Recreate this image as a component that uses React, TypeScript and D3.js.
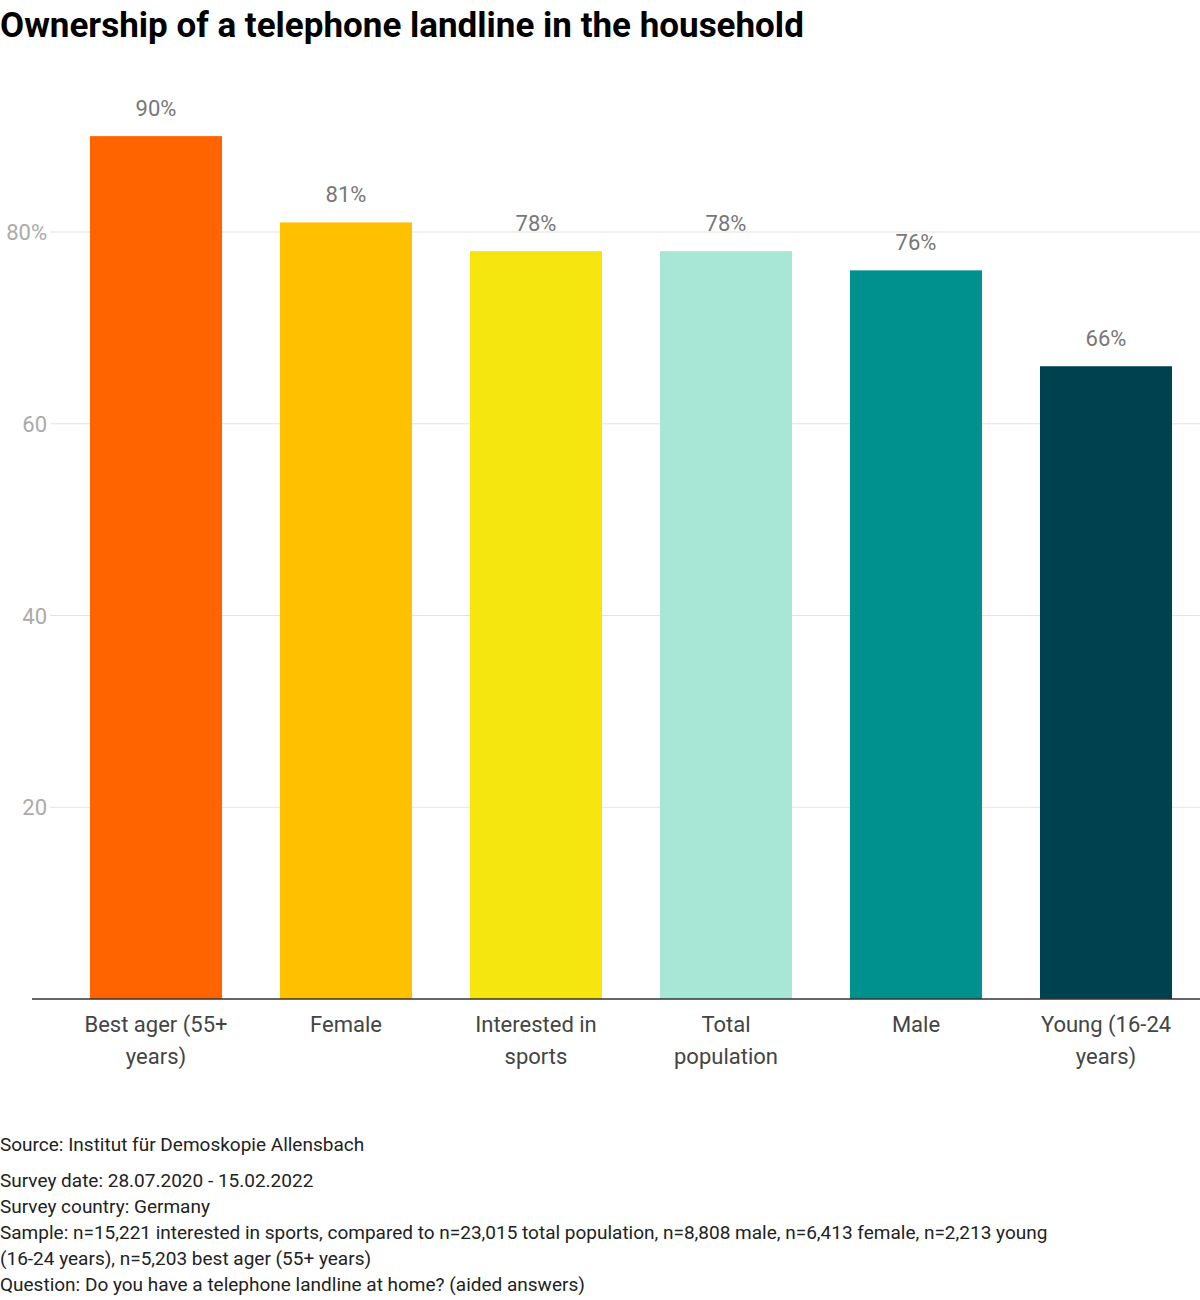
import * as d3 from 'd3'

const categories = ['Best ager (55+ years)', 'Female', 'Interested in sports', 'Total population', 'Male', 'Young (16-24 years)']
const labelLines = [['Best ager (55+', 'years)'], ['Female'], ['Interested in', 'sports'], ['Total', 'population'], ['Male'], ['Young (16-24', 'years)']]
const values = [90, 81, 78, 78, 76, 66]
const colors = ['#ff6400', '#ffc000', '#f5e60f', '#a8e6d6', '#00918f', '#00414f']
const ticks = [20, 40, 60, 80]
const footer = [
  'Source: Institut für Demoskopie Allensbach',
  'Survey date: 28.07.2020 - 15.02.2022',
  'Survey country: Germany',
  'Sample: n=15,221 interested in sports, compared to n=23,015 total population, n=8,808 male, n=6,413 female, n=2,213 young',
  '(16-24 years), n=5,203 best ager (55+ years)',
  'Question: Do you have a telephone landline at home? (aided answers)',
]
const footerY = [1151, 1187, 1213, 1239, 1265, 1291]

export default function App() {
  const x = d3.scaleBand<string>().domain(categories).range([61, 1201]).paddingInner(0.305).paddingOuter(0.1525)
  const y = d3.scaleLinear().domain([0, 80]).range([999, 232])
  const font = 'Roboto, sans-serif'
  return (
    <svg width={1200} height={1300} style={{ position: 'absolute', left: 0, top: 0, fontFamily: font }}>
      <text x={0} y={37} fontSize={35} fontWeight="bold" fill="#000">Ownership of a telephone landline in the household</text>
      {ticks.map((t) => (
        <g key={t}>
          <line x1={50} x2={1200} y1={y(t)} y2={y(t)} stroke="#e3e3e3" />
          <text x={47} y={y(t) + 8} textAnchor="end" fontSize={22} fill="#aaa">{t === 80 ? '80%' : t}</text>
        </g>
      ))}
      {categories.map((c, i) => (
        <g key={c}>
          <rect x={x(c)} y={y(values[i])} width={x.bandwidth()} height={y(0) - y(values[i])} fill={colors[i]} />
          <text x={x(c)! + x.bandwidth() / 2} y={y(values[i]) - 20} textAnchor="middle" fontSize={22} fill="#777">{values[i]}%</text>
          {labelLines[i].map((l, j) => (
            <text key={j} x={x(c)! + x.bandwidth() / 2} y={1032 + j * 32} textAnchor="middle" fontSize={22} fill="#444">{l}</text>
          ))}
        </g>
      ))}
      <line x1={32} x2={1200} y1={y(0)} y2={y(0)} stroke="#333" strokeWidth={1.5} />
      {footer.map((f, i) => (
        <text key={i} x={0} y={footerY[i]} fontSize={19} fill="#222">{f}</text>
      ))}
    </svg>
  )
}
